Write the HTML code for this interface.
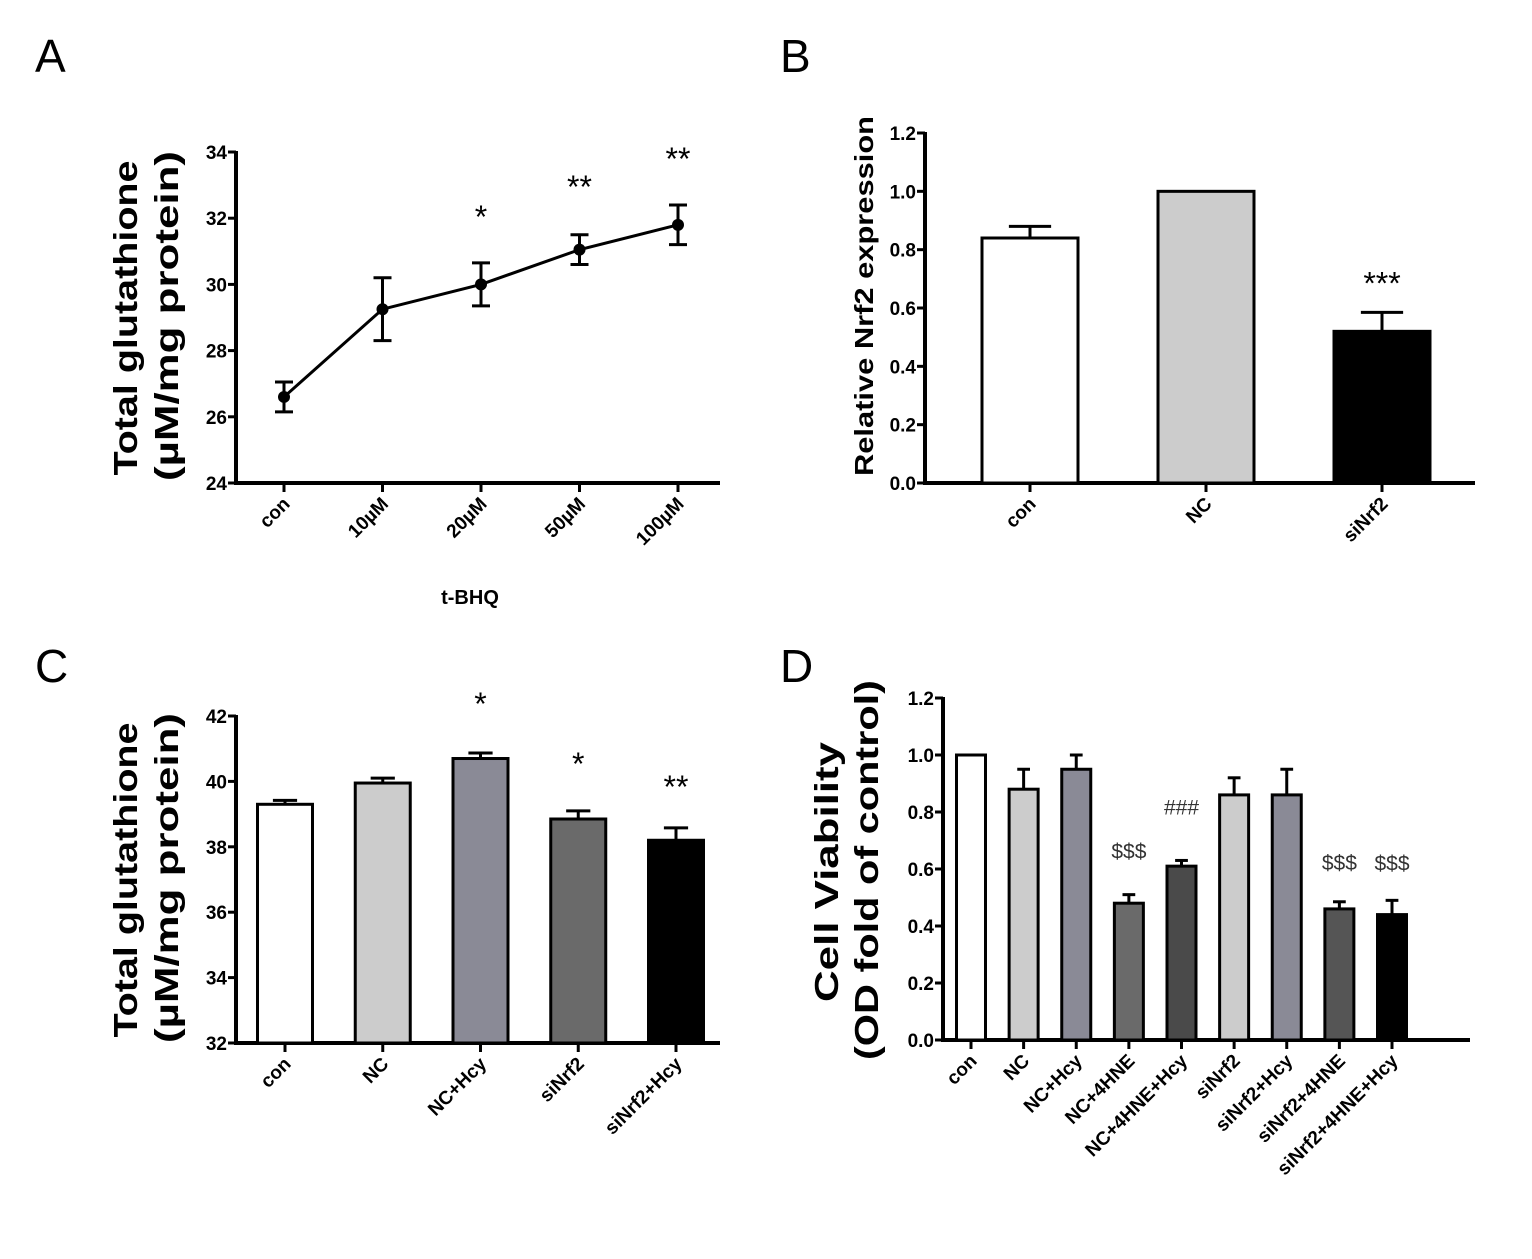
<!DOCTYPE html>
<html><head><meta charset="utf-8">
<style>
body{margin:0;background:#fff;}
svg{display:block;font-family:"Liberation Sans",Arial,sans-serif;}
</style></head>
<body>
<svg id="fig" width="1532" height="1259" viewBox="0 0 1532 1259">
<rect width="1532" height="1259" fill="#fff"/>
</svg>
<script>
// Panel A data
const aCats=["con","10µM","20µM","50µM","100µM"];
const aVals=[26.6,29.25,30.0,31.05,31.8];
const aErr=[0.45,0.95,0.65,0.45,0.6];
const aSig=["","","*","**","**"];
const aTicks=[24,26,28,30,32,34];
// Panel B data
const bCats=["con","NC","siNrf2"];
const bVals=[0.84,1.0,0.52];
const bErr=[0.04,0,0.065];
const bSig=["","","***"];
const bTicks=[0.0,0.2,0.4,0.6,0.8,1.0,1.2];
// Panel C data
const cCats=["con","NC","NC+Hcy","siNrf2","siNrf2+Hcy"];
const cVals=[39.3,39.95,40.7,38.85,38.2];
const cErr=[0.12,0.15,0.17,0.25,0.38];
const cSig=["","","*","*","**"];
const cTicks=[32,34,36,38,40,42];
// Panel D data
const dCats=["con","NC","NC+Hcy","NC+4HNE","NC+4HNE+Hcy","siNrf2","siNrf2+Hcy","siNrf2+4HNE","siNrf2+4HNE+Hcy"];
const dVals=[1.0,0.88,0.95,0.48,0.61,0.86,0.86,0.46,0.44];
const dErr=[0,0.07,0.05,0.03,0.02,0.06,0.09,0.025,0.05];
const dSig=["","","","$$$","###","","","$$$","$$$"];
const dTicks=[0.0,0.2,0.4,0.6,0.8,1.0,1.2];

const svg=document.getElementById('fig');
const NS="http://www.w3.org/2000/svg";
function el(tag,attrs,parent){const e=document.createElementNS(NS,tag);for(const k in attrs)e.setAttribute(k,attrs[k]);(parent||svg).appendChild(e);return e;}
function txt(s,attrs,parent){const e=el('text',attrs,parent);e.textContent=s;return e;}

function panel(cfg){
  const g=el('g',{});
  
  
  const y=v=>cfg.y0+(v-cfg.min)/(cfg.max-cfg.min)*(cfg.y1-cfg.y0);
  const n=cfg.cats.length;
  const x=i=>cfg.xFirst+i*(cfg.xLast-cfg.xFirst)/(n-1);
  const ya=el('line',{x1:cfg.ax,y1:y(cfg.max)-1,x2:cfg.ax,y2:cfg.y0+2,stroke:'#000','stroke-width':4},g);
  
  const xa=el('line',{x1:cfg.ax-2,y1:cfg.y0,x2:cfg.axEnd,y2:cfg.y0,stroke:'#000','stroke-width':4},g);
  
  cfg.ticks.forEach(t=>{
    el('line',{x1:cfg.ax-8,y1:y(t),x2:cfg.ax,y2:y(t),stroke:'#000','stroke-width':3},g);
    const l=txt(cfg.fmt(t),{x:cfg.ax-9,y:y(t)+7,'font-size':19,'font-weight':'bold','text-anchor':'end'},g);
    
  });
  cfg.cats.forEach((c,i)=>{
    const cx=x(i);
    el('line',{x1:cx,y1:cfg.y0,x2:cx,y2:cfg.y0+9,stroke:'#000','stroke-width':3},g);
    const l=txt(c,{x:0,y:0,'font-size':19,'font-weight':'bold','text-anchor':'end',transform:`translate(${cx+7},${cfg.y0+22}) rotate(-45)`},g);
    
  });
  if(cfg.type==='line'){
    const pts=cfg.vals.map((v,i)=>x(i)+','+y(v)).join(' ');
    const pl=el('polyline',{points:pts,fill:'none',stroke:'#000','stroke-width':3},g);
    
    cfg.vals.forEach((v,i)=>{
      const cx=x(i),e=cfg.err[i];
      el('line',{x1:cx,y1:y(v+e),x2:cx,y2:y(v-e),stroke:'#000','stroke-width':3},g);
      el('line',{x1:cx-9,y1:y(v+e),x2:cx+9,y2:y(v+e),stroke:'#000','stroke-width':3},g);
      el('line',{x1:cx-9,y1:y(v-e),x2:cx+9,y2:y(v-e),stroke:'#000','stroke-width':3},g);
      const p=el('circle',{cx:cx,cy:y(v),r:6,fill:'#000'},g);
      
      if(cfg.sig[i]){const s=txt(cfg.sig[i],{x:cx,y:cfg.sigY[i],'font-size':32,'text-anchor':'middle'},g);
        }
    });
  } else {
    cfg.vals.forEach((v,i)=>{
      const cx=x(i),e=cfg.err[i],w=cfg.bw;
      if(e>0){
        el('line',{x1:cx,y1:y(v),x2:cx,y2:y(v+e),stroke:'#000','stroke-width':3},g);
        el('line',{x1:cx-w*0.22,y1:y(v+e),x2:cx+w*0.22,y2:y(v+e),stroke:'#000','stroke-width':3},g);
      }
      const b=el('rect',{x:cx-w/2,y:y(v),width:w,height:cfg.y0-y(v),fill:cfg.colors[i],stroke:'#000','stroke-width':3},g);
      
      
      if(cfg.sig[i]){const s=txt(cfg.sig[i],{x:cx,y:y(v+e)-cfg.sigOff[i],'font-size':cfg.sigSize[i],'text-anchor':'middle',fill:cfg.sigFill||'#000'},g);
        }
    });
  }
  return g;
}

panel({name:'panel-a-chart',type:'line',cats:aCats,vals:aVals,err:aErr,sig:aSig,ticks:aTicks,min:24,max:34,y0:483,y1:152,ax:236,axEnd:720,xFirst:284,xLast:678,
  fmt:t=>String(t),sigY:[0,0,228,198,170]});
panel({name:'panel-b-chart',type:'bar',cats:bCats,vals:bVals,err:bErr,sig:bSig,ticks:bTicks,min:0,max:1.2,y0:483,y1:133,ax:925,axEnd:1475,xFirst:1030,xLast:1382,bw:96,
  fmt:t=>t.toFixed(1),colors:['#fff','#cccccc','#000'],sigOff:[0,0,18],sigSize:[0,0,32]});
panel({name:'panel-c-chart',type:'bar',cats:cCats,vals:cVals,err:cErr,sig:cSig,ticks:cTicks,min:32,max:42,y0:1043,y1:716,ax:236,axEnd:720,xFirst:285,xLast:676,bw:55,
  fmt:t=>String(t),colors:['#fff','#cccccc','#8a8a96','#6a6a6a','#000'],sigOff:[0,0,38,36,30],sigSize:[32,32,32,32,32]});
panel({name:'panel-d-chart',type:'bar',cats:dCats,vals:dVals,err:dErr,sig:dSig,ticks:dTicks,min:0,max:1.2,y0:1040,y1:698,ax:943,axEnd:1470,xFirst:971,xLast:1392,bw:29,
  fmt:t=>t.toFixed(1),colors:['#fff','#cccccc','#8a8a96','#6a6a6a','#4a4a4a','#cccccc','#8a8a96','#555','#000'],sigOff:[0,0,0,36,46,0,0,32,30],sigSize:[20,20,20,21,21,20,20,21,21],sigFill:'#333'});

function label(s,attrs,name){const t=txt(s,attrs);return t;}
label('A',{x:35,y:72,'font-size':46},'panel-a-letter');
label('B',{x:780,y:72,'font-size':46},'panel-b-letter');
label('C',{x:35,y:682,'font-size':46},'panel-c-letter');
label('D',{x:780,y:682,'font-size':46},'panel-d-letter');
const T={'font-size':33,'font-weight':'bold','text-anchor':'middle',lengthAdjust:'spacingAndGlyphs'};
label('Total glutathione',Object.assign({},T,{x:0,y:0,textLength:315,transform:'translate(137,318) rotate(-90)'}),'panel-a-y-title-line1');
label('(µM/mg protein)',Object.assign({},T,{x:0,y:0,textLength:330,transform:'translate(178,316) rotate(-90)'}),'panel-a-y-title-line2');
label('t-BHQ',{x:470,y:604,'font-size':20,'font-weight':'bold','text-anchor':'middle'},'panel-a-x-title');
label('Relative Nrf2 expression',{x:0,y:0,'font-size':26,'font-weight':'bold','text-anchor':'middle',textLength:360,lengthAdjust:'spacingAndGlyphs',transform:'translate(873,296) rotate(-90)'},'panel-b-y-title');
label('Total glutathione',Object.assign({},T,{x:0,y:0,textLength:315,transform:'translate(137,880) rotate(-90)'}),'panel-c-y-title-line1');
label('(µM/mg protein)',Object.assign({},T,{x:0,y:0,textLength:330,transform:'translate(178,878) rotate(-90)'}),'panel-c-y-title-line2');
label('Cell Viability',Object.assign({},T,{x:0,y:0,textLength:260,transform:'translate(838,872) rotate(-90)'}),'panel-d-y-title-line1');
label('(OD fold of control)',Object.assign({},T,{x:0,y:0,textLength:380,transform:'translate(878,870) rotate(-90)'}),'panel-d-y-title-line2');
</script>
</body></html>
